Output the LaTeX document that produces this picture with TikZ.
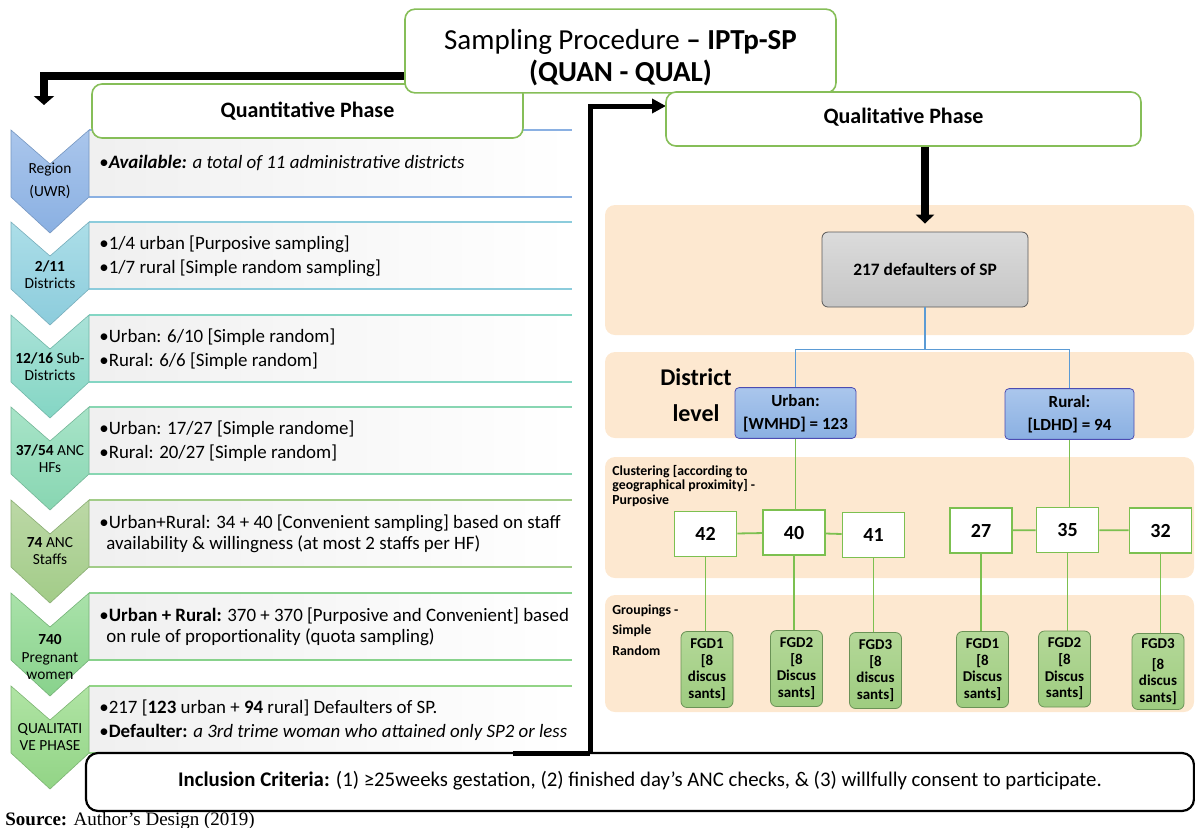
\documentclass[tikz,border=0pt]{standalone}
\usepackage{fontspec}
\setmainfont{Carlito}
\newfontfamily\srcfont{Liberation Serif}
\usepackage{xcolor}
\usepackage{tikz}
\usetikzlibrary{arrows.meta, positioning}

\definecolor{boxgreen}{RGB}{134,190,88}
\definecolor{peach}{RGB}{253,232,208}
\definecolor{treeblue}{RGB}{91,155,213}
\definecolor{treegreen}{RGB}{124,192,80}
\definecolor{fgdtop}{RGB}{180,216,152}
\definecolor{fgdbot}{RGB}{158,204,128}
\definecolor{fgdline}{RGB}{106,146,86}
\definecolor{chAa}{RGB}{170,198,236}\definecolor{chAb}{RGB}{138,176,226}
\definecolor{chBa}{RGB}{172,222,232}\definecolor{chBb}{RGB}{140,204,220}
\definecolor{chCa}{RGB}{170,226,216}\definecolor{chCb}{RGB}{132,214,196}
\definecolor{chDa}{RGB}{168,228,200}\definecolor{chDb}{RGB}{136,214,178}
\definecolor{chEa}{RGB}{188,216,166}\definecolor{chEb}{RGB}{162,204,136}
\definecolor{chFa}{RGB}{170,226,170}\definecolor{chFb}{RGB}{136,210,140}
\definecolor{chGa}{RGB}{176,228,164}\definecolor{chGb}{RGB}{146,212,134}

\begin{document}
\begin{tikzpicture}[
  x=0.5pt, y=-0.5pt,
  phase/.style={rectangle, draw=boxgreen, line width=0.8pt, rounded corners=5pt, fill=white, align=center, font=\bfseries\fontsize{11}{13}\selectfont},
  lvl/.style={align=center, inner sep=0pt, font=\fontsize{7.7}{8.6}\selectfont},
  info/.style={anchor=west, align=left, inner sep=0pt, font=\fontsize{9.45}{12}\selectfont},
  greybox/.style={rectangle, draw=gray!70!black, rounded corners=3pt, top color=gray!28, bottom color=gray!45, minimum width=103pt, minimum height=37.5pt, font=\bfseries\fontsize{8.7}{10}\selectfont},
  bluebox/.style={rectangle, draw=blue!40!gray, rounded corners=2pt, top color=chAa, bottom color=chAb, align=center, minimum height=23.5pt, font=\bfseries\fontsize{8.5}{11.5}\selectfont},
  clus/.style={rectangle, draw=treegreen, line width=0.9pt, fill=white, minimum width=31pt, minimum height=22.5pt, font=\bfseries\fontsize{10}{12}\selectfont},
  fgd/.style={rectangle, draw=fgdline, rounded corners=3pt, top color=fgdtop, bottom color=fgdbot, minimum width=26pt, minimum height=38pt, inner sep=1pt, align=center, font=\bfseries\fontsize{7.5}{8.3}\selectfont},
  note/.style={anchor=west, align=left, inner sep=0pt, font=\bfseries\fontsize{6.9}{7.2}\selectfont},
  band/.style={fill=peach, rounded corners=5pt},
  blueline/.style={draw=treeblue, line width=0.9pt},
  greenline/.style={draw=treegreen, line width=0.9pt},
  arrow/.style={->, line width=4pt}
]
\useasboundingbox (0,0) rectangle (1195,827);

% Quantitative rows: chevrons and panels
\foreach \t/\ca/\cb in {130/chAa/chAb, 222/chBa/chBb, 315/chCa/chCb, 407/chDa/chDb, 500/chEa/chEb, 593/chFa/chFb, 686/chGa/chGb}{
  \shade[left color=black!6, right color=white] (89,\t) rectangle (572,\t+67);
  \draw[\cb, line width=0.8pt] (89,\t) -- (572,\t) (89,\t+67) -- (572,\t+67);
  \shade[top color=\ca, bottom color=\cb, draw=\cb!85!black, line width=0.3pt]
    (11,\t) -- (50,\t+34) -- (89,\t) -- (89,\t+67) -- (50,\t+103) -- (11,\t+67) -- cycle;
}

\node[lvl, font=\fontsize{7.7}{11.5}\selectfont] (lvl1) at (50,181) {Region\\(UWR)};
\node[lvl] (lvl2) at (50,275) {\textbf{2/11}\\Districts};
\node[lvl] (lvl3) at (50,367) {\textbf{12/16} Sub-\\Districts};
\node[lvl] (lvl4) at (50,459) {\textbf{37/54} ANC\\HFs};
\node[lvl] (lvl5) at (50,551) {\textbf{74} ANC\\Staffs};
\node[lvl] (lvl6) at (50,657) {\textbf{740}\\Pregnant\\women};
\node[lvl] (lvl7) at (50,737) {QUALITATI\\VE PHASE};

\node[info] (inf1) at (99,163) {•\textbf{\textit{Available:}} \textit{a total of 11 administrative districts}};
\node[info] (inf2) at (99,256) {•1/4 urban [Purposive sampling]\\•1/7 rural [Simple random sampling]};
\node[info] (inf3) at (99,349) {•Urban: 6/10 [Simple random]\\•Rural: 6/6 [Simple random]};
\node[info] (inf4) at (99,441) {•Urban: 17/27 [Simple randome]\\•Rural: 20/27 [Simple random]};
\node[info, font=\fontsize{9.45}{10.5}\selectfont] (inf5) at (99,534) {•Urban+Rural: 34 + 40 [Convenient sampling] based on staff\\\hspace*{3.5pt}availability \& willingness (at most 2 staffs per HF)};
\node[info, font=\fontsize{9.45}{10.5}\selectfont] (inf6) at (99,627) {•\textbf{Urban + Rural:} 370 + 370 [Purposive and Convenient] based\\\hspace*{3.5pt}on rule of proportionality (quota sampling)};
\node[info] (inf7) at (99,720) {•217 [\textbf{123} urban + \textbf{94} rural] Defaulters of SP.\\•\textbf{Defaulter:} \textit{a 3rd trime woman who attained only SP2 or less}};

% Qualitative bands
\fill[band] (605,205) rectangle (1194,335);
\fill[band] (605,352) rectangle (1194,438);
\fill[band] (605,457) rectangle (1194,578);
\fill[band] (605,595) rectangle (1194,712);

% Headings
\coordinate (qtop) at (44,105);
\coordinate (elbow) at (513,753);
\coordinate (turn) at (590,106);
\draw[arrow, >={Triangle[width=10pt,length=4.5pt]}] ([yshift=-12.5pt]620.5,51) -| (qtop);
\draw[arrow, line width=2.5pt, >={Triangle[width=7pt,length=7pt]}] (elbow) -| (turn) -- (666,106);
\node[phase, minimum width=215.5pt, minimum height=27pt] (quant) at (307.5,111) {Quantitative Phase};
\node[phase, minimum width=215.5pt, minimum height=39pt, font=\fontsize{14.5}{16}\selectfont] (title) at (620.5,51) {\rule{0pt}{17pt}Sampling Procedure \textbf{– IPTp-SP}\\\textbf{(QUAN - QUAL)}};
\node[phase, minimum width=237.5pt, minimum height=27pt] (qual) at (903.5,119) {Qualitative Phase\rule[-3pt]{0pt}{1pt}};

% Tree
\node[greybox] (dflt) at (925,269.5) {217 defaulters of SP};
\draw[arrow, >={Triangle[width=9pt,length=4.5pt]}, shorten >=4pt] (qual.south -| dflt.north) -- (dflt.north);

\node[font=\bfseries\fontsize{12}{18}\selectfont, align=center] (dlevel) at (696,395) {District\\level};
\node[bluebox, minimum width=60.5pt] (urban) at (795.5,413) {Urban:\\ {[WMHD]} = 123};
\node[bluebox, minimum width=64.5pt, minimum height=24pt] (rural) at (1069.5,414) {Rural:\\ {[LDHD]} = 94};
\draw[blueline] (dflt.south) -- ++(0,42) -| (urban.north);
\draw[blueline] (dflt.south) -- ++(0,42) -| (rural.north);

\node[note] (clnote) at (612,486) {Clustering [according to\\geographical proximity] -\\Purposive};
\node[clus] (c42) at (705.5,534) {42};
\node[clus] (c40) at (794,532.5) {40};
\node[clus] (c41) at (873.5,535) {41};
\node[clus] (c27) at (981,530.5) {27};
\node[clus] (c35) at (1067.5,530) {35};
\node[clus] (c32) at (1160.5,530.5) {32};
\draw[greenline] (urban.south) -- (urban.south |- c40.north);
\draw[greenline] (rural.south) -- (rural.south |- c35.north);
\draw[greenline] (c42) -- (c40);
\draw[greenline] (c40) -- (c41);
\draw[greenline] (c27) -- (c35);
\draw[greenline] (c35) -- (c32);

\node[note, font=\bfseries\fontsize{6.9}{10.3}\selectfont] (grnote) at (612,630) {Groupings -\\Simple\\Random};
\node[fgd] (f1u) at (707,669.5) {FGD1\\ {[8}\\ discus\\ sants]};
\node[fgd] (f2u) at (796.5,668.5) {FGD2\\ {[8}\\ Discus\\ sants]};
\node[fgd] (f3u) at (875.5,670.5) {FGD3\\ {[8}\\ discus\\ sants]};
\node[fgd] (f1r) at (982.5,669.5) {FGD1\\ {[8}\\ Discus\\ sants]};
\node[fgd] (f2r) at (1064.5,669) {FGD2\\ {[8}\\ Discus\\ sants]};
\node[fgd] (f3r) at (1158,671.5) {FGD3\\[2pt] {[8}\\ discus\\ sants]};
\foreach \c/\f in {c42/f1u, c40/f2u, c41/f3u, c27/f1r, c35/f2r, c32/f3r}
  \draw[greenline] (\c.south) -- (\c.south |- \f.north);

% Footer
\node[rectangle, draw, line width=1.1pt, rounded corners=6pt, fill=white, minimum width=554pt, minimum height=29pt, font=\fontsize{10.4}{12}\selectfont] (incl) at (640,782) {\textbf{Inclusion Criteria:} (1) ≥25weeks gestation, (2) finished day’s ANC checks, \& (3) willfully consent to participate.\rule[-3pt]{0pt}{1pt}};
\draw[line width=2.5pt] (elbow) -- (turn |- elbow);
\node[anchor=base west, inner sep=0pt, font=\srcfont\fontsize{9.5}{10}\selectfont] (src) at (5,825) {\textbf{Source:} Author’s Design (2019)};
\end{tikzpicture}
\end{document}
